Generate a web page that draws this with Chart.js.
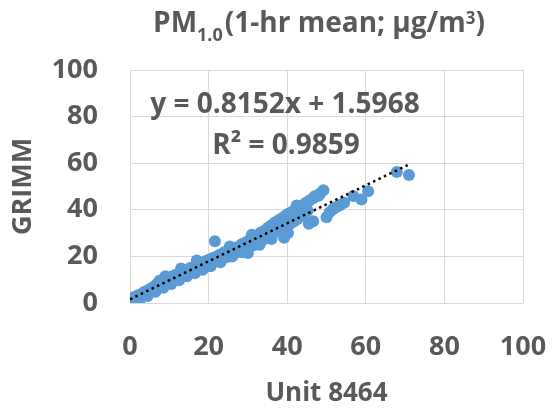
<!DOCTYPE html>
<html>
<head>
<meta charset="utf-8">
<script src="https://cdn.jsdelivr.net/npm/chart.js@4.4.1/dist/chart.umd.min.js"></script>
<style>
  html, body { margin: 0; padding: 0; background: #fff; overflow: hidden; }
  #wrap { position: relative; width: 553px; height: 410px; }
  #title {
    position: absolute; left: 319px; top: 6px; transform: translateX(-50%);
    white-space: nowrap; font-family: "Open Sans", sans-serif; font-weight: 700;
    font-size: 28px; line-height: 30px; color: #595959;
  }
  #title .lo { font-size: 18px; position: relative; top: 9px; margin-right: 2px; }
  #title .hi { font-size: 17px; position: relative; top: -8px; }
</style>
</head>
<body>
<div id="wrap">
  <canvas id="chart" width="553" height="410"></canvas>
  <div id="title">PM<span class="lo">1.0</span>(1-hr mean; µg/m<span class="hi">3</span>)</div>
</div>
<script>
// Unit 8464 (x) vs GRIMM (y)
const unitX = [0.0, 0.2, 0.4, 0.6, 0.9, 1.1, 1.4, 1.7, 2.0, 2.3, 2.6, 3.0, 3.3, 3.7, 4.0, 4.4, 4.8, 5.2, 5.6, 6.0,
  6.4, 6.8, 7.2, 7.5, 7.8, 8.2, 8.6, 9.0, 9.4, 9.8, 10.3, 10.7, 11.1, 11.6, 12.0, 12.5, 13.0, 13.4, 13.9, 14.4,
  14.8, 15.3, 15.8, 16.2, 16.7, 17.2, 17.7, 18.2, 18.7, 19.2, 19.7, 20.2, 20.6, 21.1, 21.5, 21.6, 22.0, 22.5, 23.0, 23.5,
  24.0, 24.5, 25.0, 25.4, 25.9, 26.4, 26.9, 27.4, 27.9, 28.4, 28.9, 29.4, 29.9, 30.0, 30.4, 30.8, 31.0, 31.3, 31.8, 32.3,
  32.7, 33.2, 33.7, 34.2, 34.6, 35.1, 35.6, 36.0, 36.5, 36.9, 37.4, 37.8, 38.3, 38.7, 39.2, 39.6, 40.0, 40.2, 40.4, 40.8,
  41.3, 41.7, 42.1, 42.4, 42.6, 43.0, 43.5, 43.9, 44.3, 44.8, 45.2, 45.5, 45.7, 46.6, 46.6, 47.0, 48.0, 48.4, 49.2, 50.0,
  50.8, 51.7, 52.5, 53.4, 54.5, 56.8, 58.9, 60.6, 67.9, 71.0,
  0.8, 1.5, 2.5, 4.5, 6.5, 8.5, 10.5, 12.5, 14.5, 16.5, 18.5, 20.5, 23.0, 26.0, 28.5, 33.0, 36.0, 9.0, 13.0, 17.0];
const grimmY = [1.2, 2.0, 0.9, 1.6, 2.4, 1.3, 2.1, 3.0, 2.2, 3.4, 2.6, 4.0, 3.3, 4.8, 4.0, 5.3, 4.6, 6.1, 5.3, 7.0,
  6.2, 8.0, 7.4, 9.6, 8.2, 9.9, 8.6, 10.2, 9.1, 10.7, 9.6, 11.4, 10.2, 12.1, 10.8, 12.7, 11.5, 13.4, 12.0, 14.2,
  12.8, 15.0, 13.4, 15.4, 14.1, 16.3, 14.8, 17.2, 15.5, 17.9, 16.2, 18.7, 16.8, 19.3, 17.6, 26.5, 20.0, 18.3, 20.8, 19.0,
  21.8, 19.6, 22.5, 24.2, 20.8, 23.1, 21.6, 24.0, 22.3, 25.2, 23.0, 26.0, 23.6, 21.5, 27.0, 24.4, 29.3, 28.0, 25.0, 29.0,
  26.0, 30.2, 27.0, 31.0, 28.0, 32.3, 28.8, 33.4, 30.0, 34.5, 31.0, 35.5, 32.0, 36.4, 28.0, 37.6, 33.0, 30.0, 38.4, 34.0,
  39.2, 35.0, 40.2, 41.8, 36.0, 41.0, 37.2, 42.0, 38.4, 43.0, 39.6, 34.0, 44.0, 45.0, 35.1, 45.8, 46.0, 47.0, 48.4, 36.8,
  39.0, 40.3, 41.2, 42.0, 43.0, 45.9, 44.4, 48.0, 56.2, 54.9,
  0.3, 0.6, 1.2, 3.0, 4.8, 6.5, 8.2, 9.8, 11.5, 12.8, 14.3, 15.8, 17.5, 20.0, 21.8, 25.0, 27.5, 11.5, 14.8, 18.2];

const tickValues = [0, 20, 40, 60, 80, 100];
const slope = 0.8152;
const intercept = 1.5968;
const trendRange = [0, 71.0];
const eqLines = ['y = 0.8152x + 1.5968', 'R² = 0.9859'];

const gray = '#595959';
const font = 'Open Sans';

const points = unitX.map((x, i) => ({ x: x, y: grimmY[i] }));
const trend = trendRange.map(x => ({ x: x, y: slope * x + intercept }));

// equation label in the upper part of the plot
const eqPlugin = {
  id: 'eqText',
  afterDraw(chart) {
    const ctx = chart.ctx;
    ctx.save();
    ctx.font = `bold 28px "${font}"`;
    ctx.fillStyle = gray;
    ctx.textAlign = 'center';
    ctx.textBaseline = 'alphabetic';
    ctx.fillText(eqLines[0], 285, 113);
    ctx.fillText(eqLines[1], 286, 154);
    ctx.restore();
  }
};

const axisCommon = {
  type: 'linear',
  min: 0,
  max: 100,
  afterBuildTicks: s => { s.ticks = tickValues.map(v => ({ value: v })); },
  grid: { color: '#D9D9D9', lineWidth: 1, drawTicks: false },
  border: { display: false },
  ticks: { color: gray, font: { family: font, size: 27, weight: 'bold' } },
};

new Chart(document.getElementById('chart'), {
  type: 'scatter',
  data: {
    datasets: [
      {
        type: 'line',
        data: trend,
        borderColor: '#000',
        borderWidth: 2.5,
        borderDash: [2.5, 3.5],
        pointRadius: 0,
        fill: false,
      },
      {
        data: points,
        backgroundColor: '#5B9BD5',
        borderWidth: 0,
        pointRadius: 6,
        pointHoverRadius: 6,
      },
    ],
  },
  options: {
    responsive: false,
    animation: false,
    events: [],
    layout: { padding: { top: 70, right: 30, left: 0, bottom: 0 } },
    plugins: { legend: { display: false }, tooltip: { enabled: false } },
    scales: {
      x: {
        ...axisCommon,
        ticks: { ...axisCommon.ticks, padding: 28, maxRotation: 0 },
        title: { display: true, text: 'Unit 8464', color: gray, font: { family: font, size: 26, weight: 'bold' }, padding: { top: 0, bottom: 1 } },
        afterFit: s => { s.height = 107; s.paddingLeft = 0; s.paddingRight = 0; },
      },
      y: {
        ...axisCommon,
        ticks: { ...axisCommon.ticks, padding: 32 },
        title: { display: true, text: 'GRIMM', color: gray, font: { family: font, size: 27, weight: 'bold' }, padding: { top: 7, bottom: 0 } },
        afterFit: s => { s.width = 130; s.paddingTop = 0; s.paddingBottom = 0; },
      },
    },
  },
  plugins: [eqPlugin],
});
</script>
</body>
</html>
